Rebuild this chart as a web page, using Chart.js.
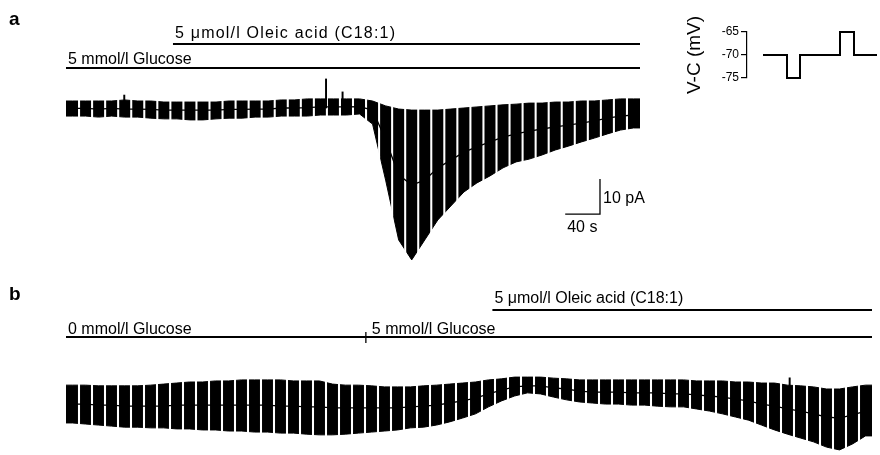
<!DOCTYPE html>
<html>
<head>
<meta charset="utf-8">
<script src="https://cdn.jsdelivr.net/npm/chart.js@4.4.1/dist/chart.umd.min.js"></script>
<style>
    html, body { margin: 0; padding: 0; background: #fff; overflow: hidden; }
    #wrap { position: relative; width: 880px; height: 455px; }
    canvas { position: absolute; left: 0; }
    #chartA { top: 0; }
    #chartB { top: 280px; }
    #chartVC { left: 670px; top: 0; }
</style>
</head>
<body>
<div id="wrap">
    <canvas id="chartA" width="880" height="280"></canvas>
    <canvas id="chartB" width="880" height="180"></canvas>
    <canvas id="chartVC" width="210" height="110"></canvas>
</div>
<script>
// one voltage-clamp sweep every 15 s
var SWEEP_S = 15;

// panel a - current range per sweep (pA), holding current between sweeps
var A_HI = [2.0, 2.0, 2.0, 2.0, 2.3, 2.0, 2.0, 1.7, 1.7, 1.7, 1.7, 1.7, 2.0, 2.0, 2.0, 2.0, 2.3, 2.3, 2.6, 2.6, 2.6, 2.6, 2.6,
    2.0, 0.6, -0.3, -0.6, -0.6, -0.6, -0.3, 0.0, 0.3, 0.6, 0.9, 1.1, 1.4, 1.4, 1.7, 1.7, 2.0, 2.0, 2.3, 2.6, 2.6];
var A_LO = [-2.3, -2.3, -2.6, -2.3, -2.6, -2.6, -2.9, -3.1, -3.1, -3.4, -3.4, -3.1, -2.9, -2.9, -2.6, -2.6, -2.3, -2.3, -2.3, -2.0, -2.0, -2.0, -1.7,
    -4.6, -20.6, -37.7, -43.4, -37.7, -32.0, -28.0, -24.0, -21.4, -19.4, -17.1, -15.4, -14.6, -13.4, -12.0, -10.9, -9.7, -8.6, -7.4, -6.3, -5.7];
var A_HOLD = [-0.1, -0.1, -0.3, -0.1, -0.3, -0.3, -0.4, -0.6, -0.6, -0.6, -0.6, -0.6, -0.4, -0.4, -0.3, -0.3, 0.0, 0.0, 0.1, 0.3, 0.3, 0.3, 0.4,
    -0.6, -9.1, -19.1, -22.0, -20.6, -17.1, -14.9, -12.6, -11.1, -9.7, -8.3, -7.4, -6.6, -6.0, -5.4, -4.9, -4.3, -3.7, -2.9, -2.3, -2.0];
var A_SPIKE_T = [67, 299, 318];
var A_SPIKE_HI = [3.7, 8.3, 4.6];
var A_APPS = ['5 mmol/l Glucose', '5 \u03bcmol/l Oleic acid (C18:1)'];
var A_APP_START = [0, 123];
var A_APP_END = [660, 660];

// panel b
var B_HI = [5.1, 5.1, 4.9, 4.9, 4.9, 4.9, 5.1, 5.4, 5.7, 6.0,
    6.0, 6.3, 6.3, 6.6, 6.6, 6.6, 6.6, 6.3, 6.3, 6.3,
    5.4, 5.1, 5.1, 4.9, 4.6, 4.6, 4.6, 4.9, 5.1, 5.4,
    5.7, 6.0, 6.6, 6.9, 7.4, 7.4, 7.4, 7.1, 6.9, 6.6,
    6.6, 6.6, 6.6, 6.6, 6.6, 6.6, 6.6, 6.6, 6.3, 6.3,
    6.3, 6.0, 6.0, 5.7, 5.7, 5.1, 4.9, 4.6, 4.0, 4.0,
    4.6, 5.1];
var B_LO = [-5.7, -6.0, -6.3, -6.6, -6.9, -6.9, -7.1, -7.1, -7.4, -7.4,
    -7.7, -7.7, -8.0, -8.0, -8.3, -8.3, -8.6, -8.6, -8.9, -9.1,
    -9.1, -8.9, -8.6, -8.3, -8.0, -7.7, -7.1, -6.9, -6.3, -5.4,
    -4.3, -3.1, -1.1, 0.6, 2.0, 2.9, 2.6, 1.7, 0.9, 0.3,
    0.0, -0.3, -0.3, -0.6, -0.6, -0.9, -1.1, -1.1, -1.7, -2.3,
    -3.1, -4.0, -4.9, -6.3, -7.7, -8.9, -10.0, -11.1, -12.6, -13.4,
    -11.7, -9.4];
var B_HOLD = [-0.3, -0.3, -0.6, -0.6, -0.9, -0.9, -0.9, -0.9, -0.6, -0.6,
    -0.6, -0.6, -0.6, -0.6, -0.6, -0.6, -0.9, -0.9, -1.1, -1.1,
    -1.4, -1.4, -1.4, -1.4, -1.4, -1.4, -1.1, -0.9, -0.6, 0.0,
    0.6, 1.4, 2.6, 3.7, 4.6, 4.9, 4.9, 4.3, 4.0, 3.4,
    3.1, 3.1, 3.1, 2.9, 2.9, 2.9, 2.6, 2.6, 2.3, 2.0,
    1.7, 1.1, 0.6, -0.3, -0.9, -1.7, -2.3, -3.1, -4.0, -4.3,
    -3.4, -2.3];
var B_SPIKE_T = [835];
var B_SPIKE_HI = [7.2];
var B_APPS = ['0 mmol/l Glucose', '5 mmol/l Glucose', '5 \u03bcmol/l Oleic acid (C18:1)'];
var B_APP_START = [0, 346, 492];
var B_APP_END = [346, 930, 930];

// voltage protocol inset
var VC_T = [16, 40, 53, 93, 107, 130];
var VC_MV = [-70, -75, -70, -65, -70, -70];
var VC_TICKS = [-75, -70, -65];

var SCALE_S = 40;
var SCALE_PA = 10;

var FONT = '"Liberation Sans", Arial, sans-serif';

var panelMarks = {
    id: 'panelMarks',
    afterDraw: function (chart, args, opts) {
        var ctx = chart.ctx;
        var xs = chart.scales.x, ys = chart.scales.y;
        ctx.save();
        ctx.fillStyle = '#000';
        ctx.strokeStyle = '#000';
        ctx.textBaseline = 'alphabetic';
        ctx.font = 'bold 19px ' + FONT;
        ctx.fillText(opts.letter, 9, opts.letterY);

        ctx.font = '16px ' + FONT;
        opts.labels.forEach(function (label, i) {
            var x0 = xs.getPixelForValue(opts.start[i]);
            var x1 = xs.getPixelForValue(opts.end[i]);
            var ly = opts.lineY[i];
            ctx.lineWidth = 2;
            ctx.beginPath();
            ctx.moveTo(x0, ly);
            ctx.lineTo(x1, ly);
            ctx.stroke();
            var shift = 2;
            var prev = opts.end.indexOf(opts.start[i]);
            if (prev !== -1 && opts.lineY[prev] === ly) {
                // solution change on the same line
                ctx.lineWidth = 1.3;
                ctx.beginPath();
                ctx.moveTo(x0, ly - 5);
                ctx.lineTo(x0, ly + 6);
                ctx.stroke();
                shift = 6;
            }
            ctx.letterSpacing = (opts.spacing ? opts.spacing[i] : 0) + 'px';
            ctx.fillText(label, x0 + shift, opts.textY[i]);
            ctx.letterSpacing = '0px';
        });

        if (opts.scaleBar) {
            var sb = opts.scaleBar;
            var cx = xs.getPixelForValue(sb.t), cy = ys.getPixelForValue(sb.v);
            var lx = xs.getPixelForValue(sb.t - SCALE_S);
            var ty = ys.getPixelForValue(sb.v + SCALE_PA);
            ctx.lineWidth = 1.3;
            ctx.beginPath();
            ctx.moveTo(lx, cy);
            ctx.lineTo(cx, cy);
            ctx.lineTo(cx, ty);
            ctx.stroke();
            ctx.fillText(SCALE_PA + ' pA', cx + 3, ty + 24);
            ctx.fillText(SCALE_S + ' s', lx + 2, cy + 18);
        }
        ctx.restore();
    }
};

function sweepPoints(values, tEnd) {
    var pts = values.map(function (v, i) { return { x: SWEEP_S * i + SWEEP_S / 2, y: v }; });
    // hold the first and last sweep out to the record edges
    pts.unshift({ x: 0, y: values[0] });
    pts.push({ x: tEnd, y: values[values.length - 1] });
    return pts;
}

function traceDatasets(hi, lo, hold, spikeT, spikeHi, tEnd) {
    var gaps = [];
    for (var i = 1; i < hi.length; i++) gaps.push({ x: SWEEP_S * i, y: [-100, 100] });
    return [
        {
            type: 'line',
            data: sweepPoints(lo, tEnd),
            borderColor: '#000',
            borderWidth: 1,
            pointRadius: 0,
            fill: false,
            order: 4
        },
        {
            type: 'line',
            data: sweepPoints(hi, tEnd),
            borderColor: '#000',
            backgroundColor: '#000',
            borderWidth: 1,
            pointRadius: 0,
            fill: '-1',
            order: 3
        },
        {
            // pauses between sweeps
            type: 'bar',
            data: gaps,
            backgroundColor: '#fff',
            borderWidth: 0,
            barThickness: 1.4,
            grouped: false,
            order: 2
        },
        {
            type: 'line',
            data: hold.map(function (v, i) { return { x: SWEEP_S * i + SWEEP_S / 2, y: v }; }),
            borderColor: '#000',
            borderWidth: 1.3,
            pointRadius: 0,
            fill: false,
            order: 1
        },
        {
            type: 'bar',
            data: spikeT.map(function (t, i) { return { x: t, y: [0, spikeHi[i]] }; }),
            backgroundColor: '#000',
            borderWidth: 0,
            barThickness: 1.3,
            grouped: false,
            order: 0
        }
    ];
}

function baseOptions(xmax, ymin, ymax, padding, marks) {
    return {
        animation: false,
        responsive: false,
        devicePixelRatio: 1,
        layout: { padding: padding },
        plugins: {
            legend: { display: false },
            tooltip: { enabled: false },
            panelMarks: marks
        },
        scales: {
            x: { type: 'linear', min: 0, max: xmax, offset: false, display: false },
            y: { min: ymin, max: ymax, display: false }
        }
    };
}

new Chart(document.getElementById('chartA'), {
    type: 'line',
    data: { datasets: traceDatasets(A_HI, A_LO, A_HOLD, A_SPIKE_T, A_SPIKE_HI, 660) },
    options: baseOptions(660, -46, 10, { left: 66, right: 240, top: 73, bottom: 11 }, {
        letter: 'a', letterY: 25,
        labels: A_APPS, start: A_APP_START, end: A_APP_END,
        lineY: [68, 44], textY: [64, 38], spacing: [0, 1.2],
        scaleBar: { t: 614, v: -30.3 }
    }),
    plugins: [panelMarks]
});

new Chart(document.getElementById('chartB'), {
    type: 'line',
    data: { datasets: traceDatasets(B_HI, B_LO, B_HOLD, B_SPIKE_T, B_SPIKE_HI, 930) },
    options: baseOptions(930, -15, 10, { left: 66, right: 8, top: 88, bottom: 4.5 }, {
        letter: 'b', letterY: 20,
        labels: B_APPS, start: B_APP_START, end: B_APP_END,
        lineY: [57, 57, 30], textY: [54, 54, 23]
    }),
    plugins: [panelMarks]
});

new Chart(document.getElementById('chartVC'), {
    type: 'line',
    data: {
        datasets: [{
            data: VC_T.map(function (t, i) { return { x: t, y: VC_MV[i] }; }),
            stepped: true,
            borderColor: '#000',
            borderWidth: 2,
            pointRadius: 0,
            clip: false
        }]
    },
    options: {
        animation: false,
        responsive: false,
        devicePixelRatio: 1,
        layout: { padding: { left: 13, right: 3, top: 32, bottom: 32 } },
        plugins: { legend: { display: false }, tooltip: { enabled: false } },
        scales: {
            x: { type: 'linear', min: 0, max: 130, display: false },
            y: {
                min: -75, max: -65,
                afterBuildTicks: function (scale) {
                    scale.ticks = VC_TICKS.map(function (v) { return { value: v }; });
                },
                afterFit: function (scale) { scale.width = 64; },
                grid: { drawOnChartArea: false, color: '#000', lineWidth: 1.2, tickLength: 6 },
                border: { color: '#000', width: 1.2 },
                ticks: { color: '#000', font: { family: FONT, size: 12 }, padding: 2 },
                title: { display: true, text: 'V-C (mV)', color: '#000', font: { family: FONT, size: 19 }, padding: { top: 0, bottom: 0 } }
            }
        }
    }
});
</script>
</body>
</html>
